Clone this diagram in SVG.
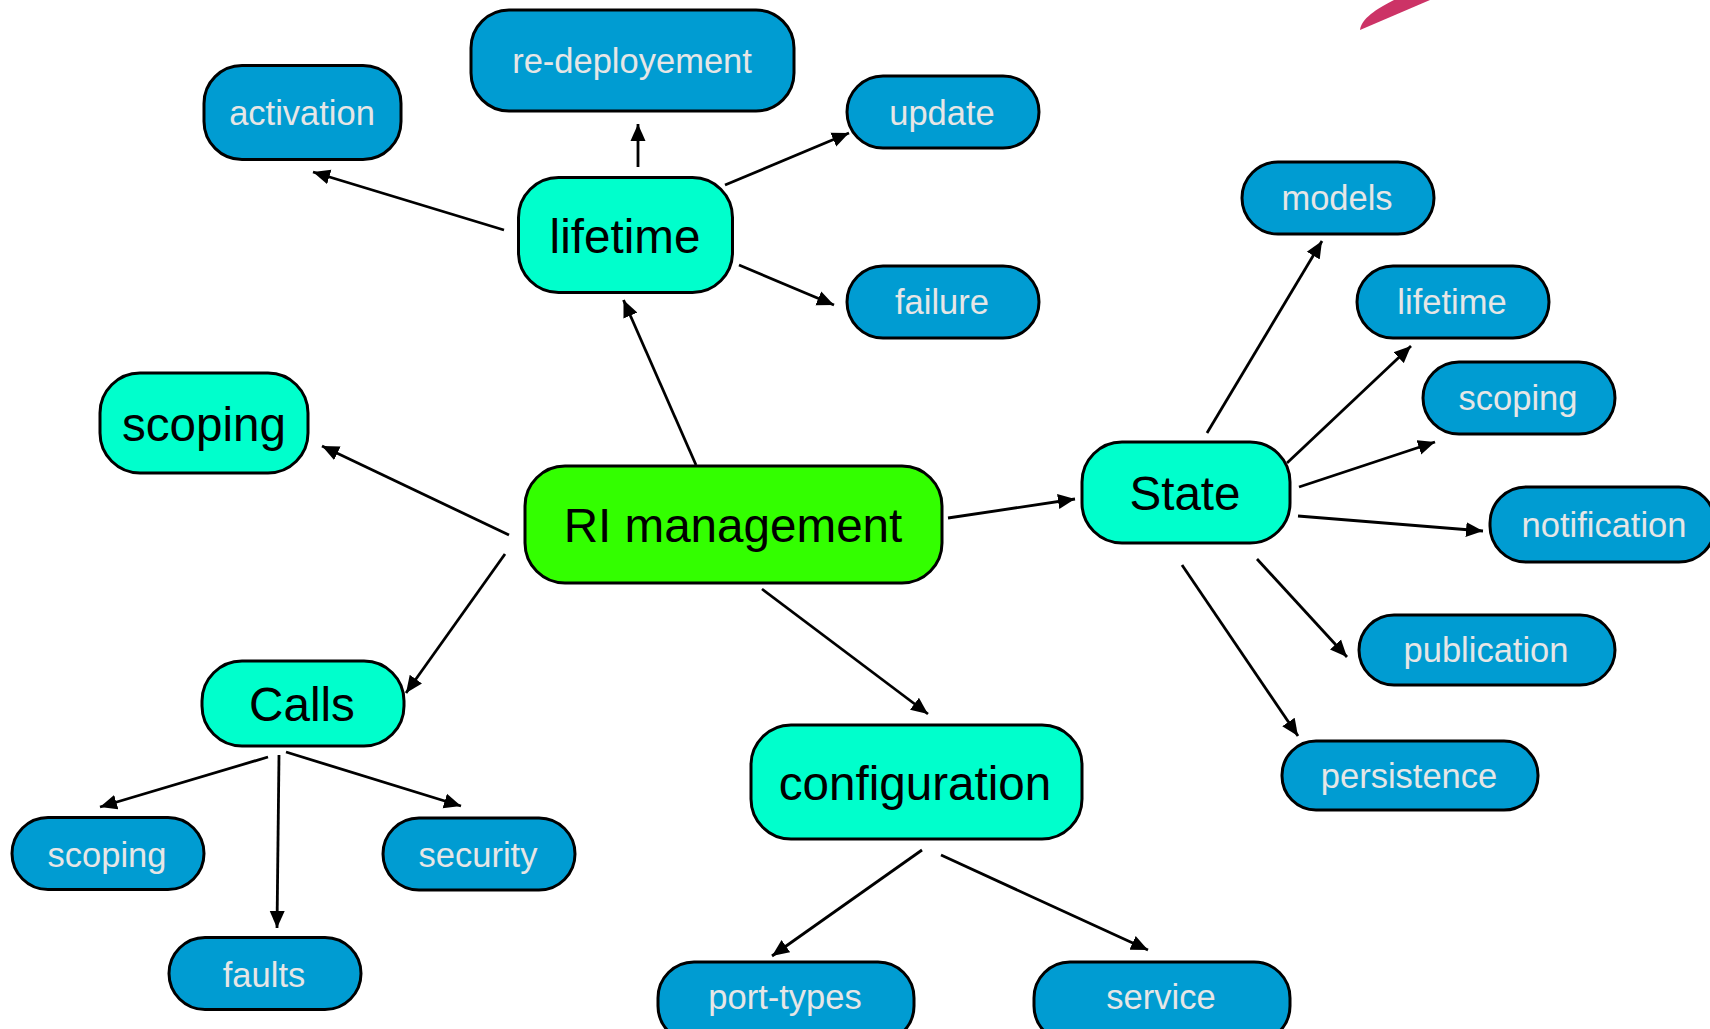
<svg xmlns="http://www.w3.org/2000/svg" width="1710" height="1029" viewBox="0 0 1710 1029">
<style>
.n{stroke:#000;stroke-width:3}
.leaf{fill:#009cd2}
.mid{fill:#00ffcc}
.root{fill:#33ff00}
.sm{font:34.500px "Liberation Sans",Arial,sans-serif;fill:#e6e6e6;text-anchor:middle}
.lg{font:47.600px "Liberation Sans",Arial,sans-serif;fill:#000;text-anchor:middle}
#connectors line{stroke:#000;stroke-width:2.800;marker-end:url(#a)}
</style>
<defs><marker id="a" markerUnits="userSpaceOnUse" markerWidth="18" markerHeight="16" refX="17" refY="8" orient="auto"><path d="M0 0.500L17 8L0 15.500Z" fill="#000"/></marker></defs>
<rect width="1710" height="1029" fill="#fff"/>
<path d="M1360 30C1361 19 1376 9 1394 0L1430 0Z" fill="#cc3366"/>
<g id="connectors">
<line x1="696" y1="465" x2="623.500" y2="300"/>
<line x1="504" y1="230" x2="313" y2="172"/>
<line x1="638" y1="167" x2="638" y2="124"/>
<line x1="725" y1="185" x2="849" y2="133"/>
<line x1="739" y1="265" x2="834" y2="305"/>
<line x1="509" y1="535" x2="322" y2="446"/>
<line x1="505" y1="554" x2="406" y2="693"/>
<line x1="762" y1="589" x2="928" y2="714"/>
<line x1="948" y1="518" x2="1075" y2="499"/>
<line x1="1207" y1="433" x2="1322" y2="241"/>
<line x1="1287" y1="463" x2="1411" y2="346"/>
<line x1="1299" y1="487" x2="1435" y2="442"/>
<line x1="1298" y1="516" x2="1483" y2="531"/>
<line x1="1257" y1="559" x2="1347" y2="657"/>
<line x1="1182" y1="565" x2="1298" y2="736"/>
<line x1="268" y1="757" x2="100" y2="807"/>
<line x1="279" y1="755" x2="277" y2="928"/>
<line x1="286" y1="752" x2="461" y2="806"/>
<line x1="922" y1="850" x2="772" y2="956"/>
<line x1="941" y1="855" x2="1148" y2="950"/>
</g>
<g id="root-ri"><rect class="n root" x="525" y="466" width="417" height="117" rx="40"/><text class="lg" x="733" y="542">RI management</text></g>
<g id="lifetime"><rect class="n mid" x="518.500" y="177.500" width="214" height="115" rx="40"/><text class="lg" x="625" y="253">lifetime</text></g>
<g id="scoping"><rect class="n mid" x="100" y="373" width="208" height="100" rx="40"/><text class="lg" x="204" y="441">scoping</text></g>
<g id="state"><rect class="n mid" x="1082" y="442" width="208" height="101" rx="40"/><text class="lg" x="1185" y="510">State</text></g>
<g id="calls"><rect class="n mid" x="202" y="661" width="202" height="85" rx="40"/><text class="lg" x="302" y="721">Calls</text></g>
<g id="configuration"><rect class="n mid" x="751" y="725" width="331" height="114" rx="40"/><text class="lg" x="915" y="800">configuration</text></g>
<g id="activation"><rect class="n leaf" x="204" y="65.500" width="197" height="94" rx="38"/><text class="sm" x="302" y="125">activation</text></g>
<g id="re-deployement"><rect class="n leaf" x="471" y="10" width="323" height="101" rx="38"/><text class="sm" x="632" y="73">re-deployement</text></g>
<g id="update"><rect class="n leaf" x="847" y="76" width="192" height="72" rx="36"/><text class="sm" x="942" y="125">update</text></g>
<g id="failure"><rect class="n leaf" x="847" y="266" width="192" height="72" rx="36"/><text class="sm" x="942" y="314">failure</text></g>
<g id="models"><rect class="n leaf" x="1242" y="162" width="192" height="72" rx="36"/><text class="sm" x="1337" y="210">models</text></g>
<g id="lifetime-state"><rect class="n leaf" x="1357" y="266" width="192" height="72" rx="36"/><text class="sm" x="1452" y="314">lifetime</text></g>
<g id="scoping-state"><rect class="n leaf" x="1423" y="362" width="192" height="72" rx="36"/><text class="sm" x="1518" y="410">scoping</text></g>
<g id="notification"><rect class="n leaf" x="1490" y="487" width="225" height="75" rx="36"/><text class="sm" x="1604" y="537">notification</text></g>
<g id="publication"><rect class="n leaf" x="1359" y="615" width="256" height="70" rx="35"/><text class="sm" x="1486" y="662">publication</text></g>
<g id="persistence"><rect class="n leaf" x="1282" y="741" width="256" height="69" rx="34"/><text class="sm" x="1409" y="788">persistence</text></g>
<g id="scoping-calls"><rect class="n leaf" x="12" y="817.500" width="192" height="72" rx="36"/><text class="sm" x="107" y="867">scoping</text></g>
<g id="faults"><rect class="n leaf" x="169" y="937.500" width="192" height="72" rx="36"/><text class="sm" x="264" y="987">faults</text></g>
<g id="security"><rect class="n leaf" x="383" y="818" width="192" height="72" rx="36"/><text class="sm" x="478" y="867">security</text></g>
<g id="port-types"><rect class="n leaf" x="658" y="962" width="256" height="80" rx="36"/><text class="sm" x="785" y="1009">port-types</text></g>
<g id="service"><rect class="n leaf" x="1034" y="962" width="256" height="80" rx="36"/><text class="sm" x="1161" y="1009">service</text></g>
</svg>
